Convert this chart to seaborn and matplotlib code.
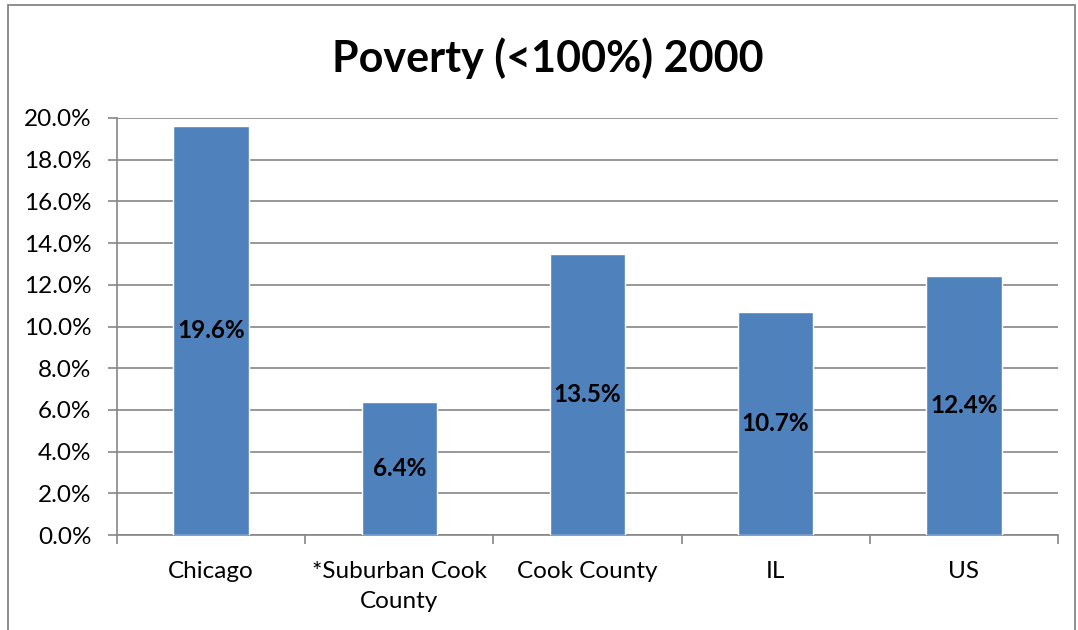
import matplotlib
matplotlib.use("Agg")
import matplotlib.pyplot as plt
import seaborn as sns
import pandas as pd
from matplotlib.patches import Rectangle
from matplotlib.ticker import FuncFormatter, MultipleLocator

categories = ["Chicago", "*Suburban Cook\nCounty", "Cook County", "IL", "US"]
values = [19.6, 6.4, 13.5, 10.7, 12.4]
title = "Poverty (<100%) 2000"

sns.set_style("white")
plt.rcParams['font.family'] = ['Lato', 'DejaVu Sans']

df = pd.DataFrame({"cat": categories, "val": values})

fig = plt.figure(figsize=(10.78, 6.30), dpi=100)
W, H = 1078, 630
ax = fig.add_axes([117 / W, 1 - 535 / H, (1058 - 117) / W, (535 - 118) / H])

sns.barplot(data=df, x="cat", y="val", color="#4F81BD", saturation=1, width=0.4, ax=ax, zorder=3)

ax.set_ylim(0, 20)
ax.set_xlim(-0.5, len(categories) - 0.5)
ax.yaxis.set_major_locator(MultipleLocator(2))
ax.yaxis.set_major_formatter(FuncFormatter(lambda v, p: f"{v:.1f}%"))
ax.grid(axis="y", color="#868686", linewidth=1.2, zorder=0)
ax.set_axisbelow(True)
ax.set_xlabel("")
ax.set_ylabel("")

for s in ["top", "right"]:
    ax.spines[s].set_visible(False)
for s in ["left", "bottom"]:
    ax.spines[s].set_color("#868686")
    ax.spines[s].set_linewidth(1.2)

FS = 17.5
ax.tick_params(axis="y", left=True, length=6.5, width=1.2, color="#868686", labelsize=FS, pad=12, labelcolor="black")
ax.set_xticks(range(len(categories)))
ax.set_xticklabels(categories, fontsize=FS, linespacing=1.55)
ax.tick_params(axis="x", bottom=False, length=0, pad=18.5, labelcolor="black")
ax.set_xticks([i - 0.5 for i in range(len(categories) + 1)], minor=True)
ax.tick_params(axis="x", which="minor", bottom=True, length=6.5, width=1.2, color="#868686")

for i, v in enumerate(values):
    ax.text(i, v / 2, f"{v:.1f}%", ha="center", va="center", fontsize=FS, fontweight="bold", color="black")

fig.text(548 / W, 1 - 58 / H, title, ha="center", va="center", fontsize=31, fontweight="bold", color="black")

fig.patches.append(Rectangle((8 / W, -0.1), (1075 - 8) / W, 1 - 5 / H + 0.1, transform=fig.transFigure,
                             fill=False, edgecolor="#868686", linewidth=1.3))

fig.savefig("out.png", dpi=100)
